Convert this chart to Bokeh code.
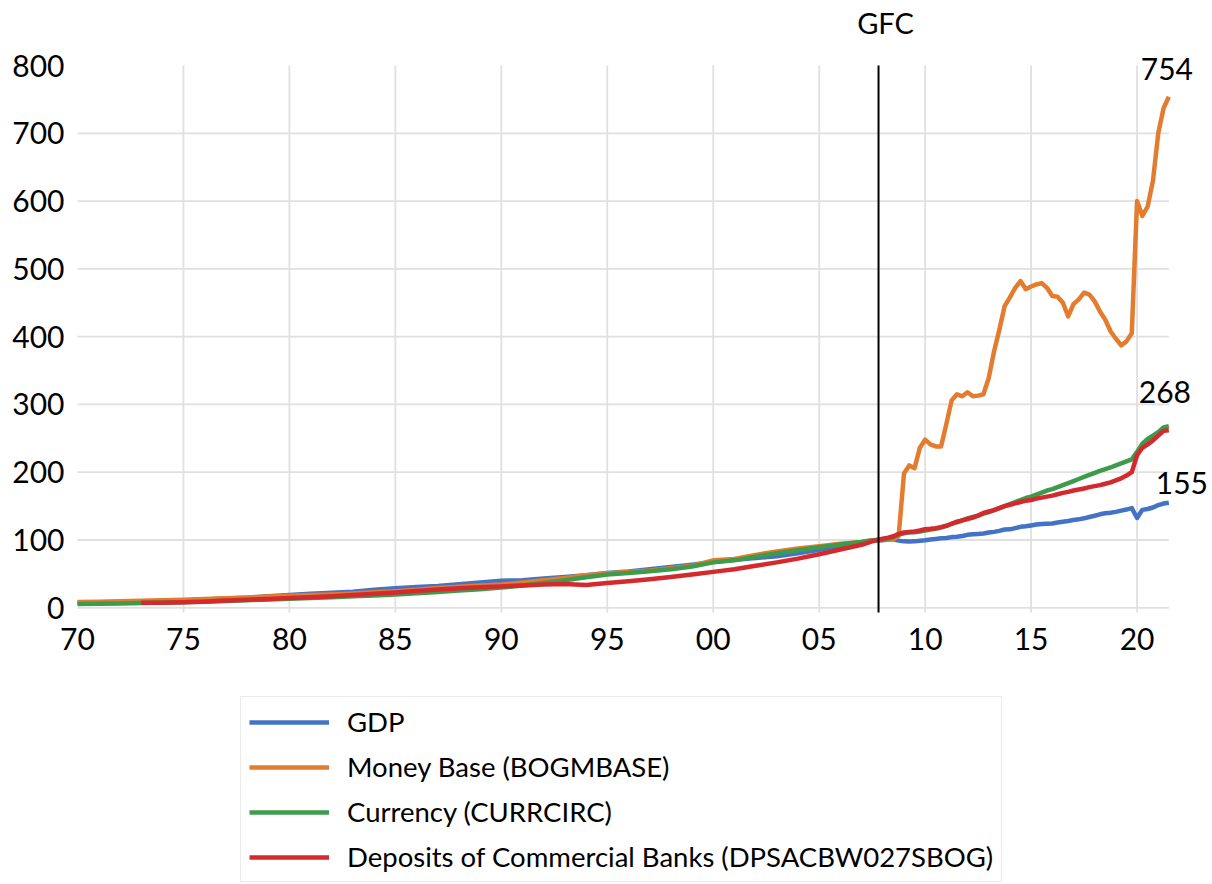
import numpy as np
from bokeh.plotting import figure
from bokeh.models import Range1d, FixedTicker, Label, Legend, LegendItem
from bokeh.embed import file_html
from bokeh.resources import INLINE

# ---------------- data (index, GFC point = 100) ----------------
annual_years = list(range(1970, 2007))                 # annual points 1970..2006
quarters = [2007 + 0.25 * k for k in range(59)]        # quarterly points 2007.0..2021.5
dates = [float(y) for y in annual_years] + quarters

gdp_annual = [7.2, 7.6, 8.4, 9.4, 10.2, 10.8, 12.3, 13.6, 14.9, 17.2,
              19.0, 20.8, 22.3, 23.7, 26.6, 28.9, 30.7, 32.2, 34.6, 37.4,
              40.0, 40.6, 43.3, 45.6, 48.2, 51.2, 53.6, 56.9, 60.1, 63.7,
              67.5, 71.0, 73.5, 76.1, 80.5, 85.5, 91.5]
gdp_quarterly = [96.7, 98.0, 99.0, 100.0,
                 99.8, 101.0, 101.1, 99.1,
                 98.0, 97.7, 98.0, 99.0,
                 99.7, 100.7, 101.6, 102.6,
                 103.0, 104.3, 104.9, 106.0,
                 107.6, 108.5, 109.0, 109.5,
                 111.0, 112.0, 113.5, 115.5,
                 115.7, 117.6, 119.4, 120.2,
                 121.5, 122.8, 123.5, 124.1,
                 124.5, 125.7, 126.9, 128.1,
                 129.5, 130.5, 132.0, 134.0,
                 135.8, 137.9, 139.4, 140.3,
                 141.5, 143.3, 144.9, 147.0,
                 132.5, 144.5, 145.8, 148.0,
                 151.5, 153.8, 155.0]

base_annual = [8.5, 9.0, 9.7, 10.4, 11.2, 12.0, 12.9, 14.0, 15.3, 16.5,
               17.6, 18.7, 19.7, 21.2, 22.9, 24.5, 26.5, 29.2, 31.0, 32.8,
               34.3, 37.3, 40.6, 43.9, 48.0, 51.0, 52.9, 55.2, 58.5, 62.0,
               70.0, 72.0, 78.0, 83.0, 87.5, 91.0, 94.5]
base_quarterly = [97.0, 98.5, 99.5, 100.0,
                  100.0, 100.5, 101.0, 106.0,
                  198.0, 210.0, 206.0, 236.0,
                  248.0, 241.0, 238.0, 238.0,
                  271.0, 306.0, 315.0, 312.0,
                  318.0, 312.0, 313.0, 315.0,
                  339.0, 378.0, 410.0, 445.0,
                  458.0, 472.0, 482.0, 470.0,
                  474.0, 477.0, 479.0, 472.0,
                  460.0, 459.0, 450.0, 430.0,
                  448.0, 455.0, 465.0, 462.0,
                  452.0, 437.0, 425.0, 408.0,
                  397.0, 387.0, 393.0, 405.0,
                  600.0, 578.0, 592.0, 630.0,
                  700.0, 737.0, 754.0]

curr_annual = [5.5, 6.0, 6.5, 7.0, 7.7, 8.3, 9.2, 10.2, 11.3, 12.4,
               13.4, 14.4, 15.5, 17.0, 18.3, 19.7, 21.4, 23.4, 25.4, 27.3,
               29.8, 33.0, 36.5, 40.5, 45.0, 49.0, 51.5, 53.8, 57.0, 61.0,
               67.0, 70.0, 75.5, 80.5, 85.0, 89.5, 93.5]
curr_quarterly = [97.0, 98.3, 99.2, 100.0,
                  100.5, 102.0, 104.0, 108.0,
                  110.0, 111.0, 111.5, 112.5,
                  114.0, 115.5, 116.5, 118.5,
                  121.0, 124.0, 126.0, 129.0,
                  132.0, 134.0, 136.0, 139.0,
                  141.0, 144.0, 147.0, 150.0,
                  153.0, 156.0, 159.0, 162.0,
                  164.0, 167.0, 170.0, 173.0,
                  175.0, 178.0, 181.0, 184.0,
                  187.0, 190.0, 193.0, 196.0,
                  199.0, 202.0, 204.5, 207.0,
                  210.0, 213.0, 216.0, 219.0,
                  230.0, 242.0, 249.0, 254.0,
                  259.0, 266.0, 268.0]

nan = float("nan")
dep_annual = [nan, nan, nan, 7.4, 7.6, 8.0, 9.0, 10.8, 11.9, 12.8,
              14.3, 15.6, 17.0, 18.8, 20.6, 22.7, 24.8, 27.0, 28.8, 30.3,
              31.6, 33.0, 34.2, 35.0, 33.5, 36.5, 39.0, 42.0, 45.5, 49.0,
              53.0, 57.0, 62.0, 67.0, 72.5, 79.0, 86.0]
dep_quarterly = [93.0, 95.5, 98.0, 100.0,
                 102.0, 103.5, 105.5, 109.0,
                 111.0, 112.0, 112.5, 114.0,
                 116.0, 116.5, 117.5, 119.0,
                 121.0, 124.0, 127.0, 129.0,
                 131.0, 133.0, 136.0, 140.0,
                 142.0, 144.0, 147.0, 150.0,
                 152.0, 154.0, 156.0, 158.0,
                 159.0, 161.0, 162.5, 164.0,
                 165.5, 167.5, 169.5, 171.0,
                 173.0, 174.5, 176.0, 178.0,
                 179.5, 181.0, 183.0, 185.0,
                 188.0, 191.0, 195.0, 200.0,
                 225.0, 236.0, 241.0, 247.0,
                 254.0, 261.0, 262.0]

series_names = ["GDP", "Money Base (BOGMBASE)", "Currency (CURRCIRC)",
                "Deposits of Commercial Banks (DPSACBW027SBOG)"]
series_colors = ["#4472C4", "#E47C2F", "#3F9B4C", "#D42A2D"]

gdp = gdp_annual + gdp_quarterly
money_base = base_annual + base_quarterly
currency = curr_annual + curr_quarterly
deposits = dep_annual + dep_quarterly

x_ticks = [1970, 1975, 1980, 1985, 1990, 1995, 2000, 2005, 2010, 2015, 2020]
x_tick_labels = ["70", "75", "80", "85", "90", "95", "00", "05", "10", "15", "20"]
y_ticks = [0, 100, 200, 300, 400, 500, 600, 700, 800]

gfc_x = 2007.8
gfc_text = "GFC"

# ---------------- figure ----------------
FONT = "Lato"
X0, X1 = 1970, 2021.5          # extent of the plotting box (data units)
Y0, Y1 = -6.9, 800
# The frame covers the whole canvas; the axes are pinned to the box edges so
# that the value labels, the GFC label and the legend are not clipped.
p = figure(width=1212, height=884, output_backend="svg", toolbar_location=None,
           x_range=Range1d(1966.366, 2023.56), y_range=Range1d(-408.2, 895.9),
           min_border_left=0, min_border_right=0, min_border_top=0,
           min_border_bottom=0)
p.outline_line_color = None
p.background_fill_color = "white"
p.border_fill_color = "white"
p.xgrid.visible = False
p.ygrid.visible = False

p.xaxis.fixed_location = Y0
p.yaxis.fixed_location = X0
p.xaxis.ticker = FixedTicker(ticks=x_ticks)
p.xaxis.major_label_overrides = {t: lab for t, lab in zip(x_ticks, x_tick_labels)}
p.yaxis.ticker = FixedTicker(ticks=y_ticks)
for ax in (p.xaxis, p.yaxis):
    ax.axis_line_color = None
    ax.major_tick_line_color = None
    ax.minor_tick_line_color = None
    ax.major_tick_out = 0
    ax.major_tick_in = 0
    ax.major_label_text_font = FONT
    ax.major_label_text_font_size = "30px"
    ax.major_label_text_color = "black"
p.xaxis.major_label_standoff = 16
p.yaxis.major_label_standoff = 13

# gridlines limited to the plotting box
GRID = "#e0e0e0"
vg = x_ticks[1:]
p.segment(x0=vg, y0=[Y0] * len(vg), x1=vg, y1=[Y1] * len(vg),
          line_color=GRID, line_width=1.8)
hg = y_ticks[:-1]
p.segment(x0=[X0] * len(hg), y0=hg, x1=[X1] * len(hg), y1=hg,
          line_color=GRID, line_width=1.8)

x_arr = np.array(dates)
renderers = []
for vals, color in zip([gdp, money_base, currency, deposits], series_colors):
    r = p.line(x_arr, np.array(vals), line_color=color, line_width=4.5,
               line_join="round")
    renderers.append(r)

# GFC marker
p.segment(x0=[gfc_x], y0=[Y0], x1=[gfc_x], y1=[Y1], line_color="black",
          line_width=2)
p.add_layout(Label(x=gfc_x, y=Y1, text=gfc_text, x_offset=7, y_offset=43,
                   text_align="center", text_baseline="alphabetic",
                   text_font=FONT, text_font_size="29px", text_color="black"))

end_labels = [(money_base, -2, 28), (currency, -4, 34), (gdp, 13, 20)]
for vals, dx, dy in end_labels:
    p.add_layout(Label(x=dates[-1], y=vals[-1], text=f"{vals[-1]:.0f}",
                       x_offset=dx, y_offset=dy, text_align="center",
                       text_baseline="alphabetic", text_font=FONT,
                       text_font_size="30px", text_color="black"))

legend = Legend(items=[LegendItem(label=n, renderers=[r])
                       for n, r in zip(series_names, renderers)],
                location=(240, 2), orientation="vertical")
legend.label_text_font = FONT
legend.label_text_font_size = "27.5px"
legend.label_text_color = "black"
legend.glyph_width = 80
legend.glyph_height = 20
legend.label_standoff = 18
legend.label_height = 33
legend.spacing = 12
legend.padding = 8
legend.margin = 0
legend.border_line_color = "#d9d9d9"
legend.border_line_width = 1.3
legend.background_fill_color = "white"
legend.background_fill_alpha = 1.0
p.add_layout(legend)

open("out.html", "w").write(file_html(p, INLINE))
